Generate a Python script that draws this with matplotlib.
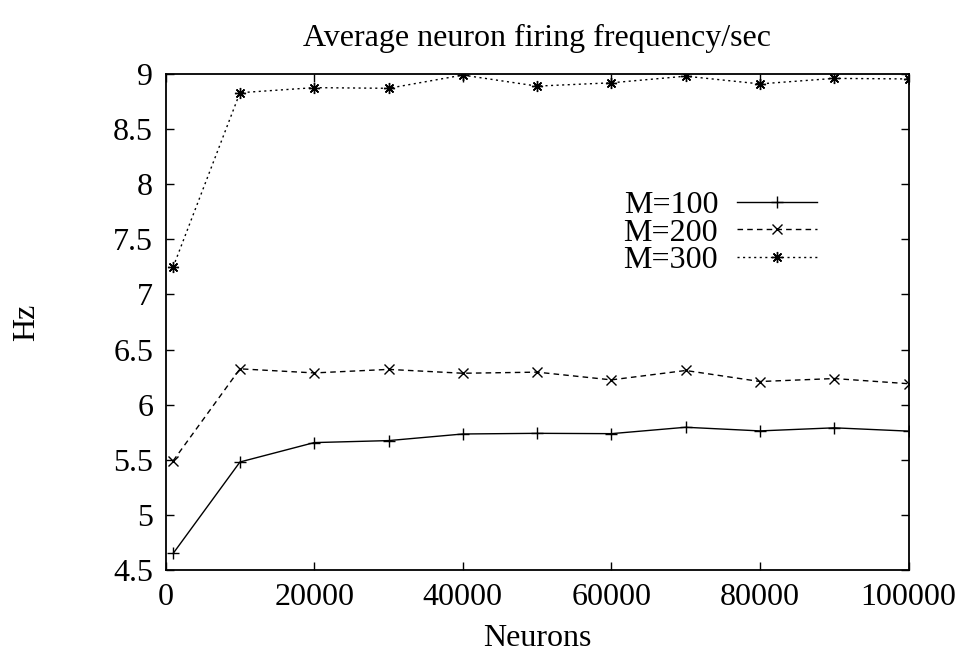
import matplotlib
matplotlib.use("Agg")
import matplotlib.pyplot as plt
from matplotlib.ticker import FuncFormatter

neurons = [1000, 10000, 20000, 30000, 40000, 50000, 60000, 70000, 80000, 90000, 100000]
m100 = [4.65, 5.48, 5.656, 5.674, 5.734, 5.74, 5.737, 5.795, 5.762, 5.79, 5.76]
m200 = [5.49, 6.325, 6.288, 6.32, 6.285, 6.295, 6.225, 6.31, 6.21, 6.237, 6.19]
m300 = [7.248, 8.83, 8.876, 8.87, 8.99, 8.89, 8.92, 8.98, 8.91, 8.96, 8.955]
labels = ["M=100", "M=200", "M=300"]
xticks = [0, 20000, 40000, 60000, 80000, 100000]
yticks = [4.5, 5, 5.5, 6, 6.5, 7, 7.5, 8, 8.5, 9]

plt.rcParams['font.family'] = ['Liberation Serif', 'DejaVu Serif']

fig = plt.figure(figsize=(9.61, 6.57), dpi=100)
ax = fig.add_axes([0.1724, 0.1324, 0.9454 - 0.1724, 0.8874 - 0.1324])

ax.plot(neurons, m100, color='black', lw=1.0, marker='+', ms=8, mew=1.0, label=labels[0])
ax.plot(neurons, m200, color='black', lw=1.0, ls=(0, (4, 3)), marker='x', ms=7, mew=1.0, label=labels[1])
ax.plot(neurons, m300, color='black', lw=1.0, ls=(0, (1.5, 2.5)), marker=(8, 2, 0), ms=8, mew=1.0, label=labels[2])

ax.set_xlim(0, 100000)
ax.set_ylim(4.5, 9)
ax.set_xticks(xticks)
ax.set_yticks(yticks)
ax.xaxis.set_major_formatter(FuncFormatter(lambda v, p: "%d" % v))
ax.yaxis.set_major_formatter(FuncFormatter(lambda v, p: "%g" % v))
ax.tick_params(direction='in', length=6, width=1.0, top=True, right=True,
               labelsize=23, pad=9)
for s in ax.spines.values():
    s.set_linewidth(1.3)

ax.set_title("Average neuron firing frequency/sec", fontsize=23, pad=20)
ax.set_xlabel("Neurons", fontsize=23, labelpad=9)
ax.set_ylabel("Hz", fontsize=23, labelpad=52)

leg = ax.legend(loc='upper right', bbox_to_anchor=(0.877, 0.765), frameon=False,
                markerfirst=False, fontsize=23, handlelength=2.5, handletextpad=0.6,
                labelspacing=-0.05, borderaxespad=0, borderpad=0)

fig.savefig("out.png", dpi=100)
